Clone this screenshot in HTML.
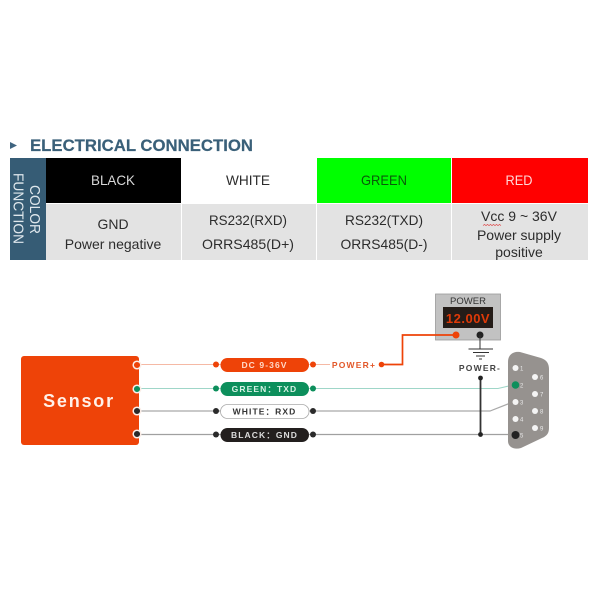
<!DOCTYPE html>
<html><head><meta charset="utf-8"><style>
html,body{margin:0;padding:0;background:#fff;width:600px;height:600px;overflow:hidden}
svg{display:block}
text{font-family:"Liberation Sans",sans-serif}
</style></head><body>
<svg width="600" height="600" viewBox="0 0 600 600" xmlns="http://www.w3.org/2000/svg">
<polygon points="10,142 17,145.500 10,149" fill="#3f6480"/>
<text x="30" y="151" font-size="16.500" font-weight="bold" fill="#3a6079" stroke="#3a6079" stroke-width=".2" textLength="223" lengthAdjust="spacingAndGlyphs">ELECTRICAL CONNECTION</text>

<rect x="10" y="158" width="36" height="102" fill="#365c75"/>
<rect x="46" y="158" width="135" height="45" fill="#000"/>
<rect x="317" y="158" width="134" height="45" fill="#00ff00"/>
<rect x="452" y="158" width="136" height="45" fill="#ff0000"/>
<rect x="46" y="204" width="135" height="56" fill="#e3e3e3"/>
<rect x="182" y="204" width="134" height="56" fill="#e3e3e3"/>
<rect x="317" y="204" width="134" height="56" fill="#e3e3e3"/>
<rect x="452" y="204" width="136" height="56" fill="#e3e3e3"/>

<text transform="translate(30,209.500) rotate(90)" font-size="14.500" fill="#dfe7ec" text-anchor="middle" textLength="49" lengthAdjust="spacingAndGlyphs">COLOR</text>
<text transform="translate(13.500,208.500) rotate(90)" font-size="14.500" fill="#dfe7ec" text-anchor="middle" textLength="71" lengthAdjust="spacingAndGlyphs">FUNCTION</text>

<g font-size="14" text-anchor="middle" fill="#2c2c2c">
<text x="113" y="185" fill="#d8d8d8" textLength="44" lengthAdjust="spacingAndGlyphs">BLACK</text>
<text x="248" y="185" textLength="44" lengthAdjust="spacingAndGlyphs">WHITE</text>
<text x="384" y="185" fill="#0a5a0a" textLength="46" lengthAdjust="spacingAndGlyphs">GREEN</text>
<text x="519" y="185" fill="#ffd8d8" textLength="27" lengthAdjust="spacingAndGlyphs">RED</text>
<text x="113" y="229">GND</text>
<text x="113" y="249">Power negative</text>
<text x="248" y="225" textLength="78" lengthAdjust="spacingAndGlyphs">RS232(RXD)</text>
<text x="248" y="249" textLength="92" lengthAdjust="spacingAndGlyphs">ORRS485(D+)</text>
<text x="384" y="225" textLength="78" lengthAdjust="spacingAndGlyphs">RS232(TXD)</text>
<text x="384" y="249" textLength="87" lengthAdjust="spacingAndGlyphs">ORRS485(D-)</text>
<text x="519" y="221">Vcc 9 ~ 36V</text>
<text x="519" y="240">Power supply</text>
<text x="519" y="257">positive</text>
</g>
<path d="M483 225.500l1.500-1 1.500 1 1.500-1 1.500 1 1.500-1 1.500 1 1.500-1 1.500 1 1.500-1 1.500 1 1.500-1 1.500 1" fill="none" stroke="#d33" stroke-width=".7"/>

<!-- wires -->
<path d="M139 364.500H372" stroke="#f5b9a5" stroke-width="1" fill="none"/>
<path d="M139 388.500H498L513 385" stroke="#9fd6c8" stroke-width="1" fill="none"/>
<path d="M139 411H490L513 402" stroke="#a9a9a9" stroke-width="1.200" fill="none"/>
<path d="M139 434.500H515" stroke="#a0a0a0" stroke-width="1.200" fill="none"/>

<rect x="21" y="356" width="118" height="89" rx="3" fill="#ee4308"/>
<text x="79" y="407" font-size="18" font-weight="bold" fill="#fff0e8" text-anchor="middle" letter-spacing="1.800">Sensor</text>

<g stroke="#fbeee8" stroke-width="1.500">
<circle cx="137" cy="365" r="3.800" fill="#ee4308"/>
<circle cx="137" cy="389" r="3.800" fill="#0d8f5c"/>
<circle cx="137" cy="411" r="3.800" fill="#2a2a2a"/>
<circle cx="137" cy="434" r="3.800" fill="#2a2a2a"/>
</g>

<!-- pills -->
<rect x="220.500" y="358" width="88.500" height="14" rx="7" fill="#ee4308"/>
<rect x="220.500" y="382" width="88.500" height="14" rx="7" fill="#0d8f5c"/>
<rect x="220.500" y="404.500" width="88.500" height="14" rx="7" fill="#fff" stroke="#aaa" stroke-width=".8"/>
<rect x="220.500" y="428" width="88.500" height="14" rx="7" fill="#231f1e"/>
<g>
<circle cx="216" cy="364.500" r="3" fill="#ee4308"/><circle cx="313" cy="364.500" r="3" fill="#ee4308"/>
<circle cx="216" cy="388.500" r="3" fill="#0d8f5c"/><circle cx="313" cy="388.500" r="3" fill="#0d8f5c"/>
<circle cx="216" cy="411" r="3" fill="#2a2a2a"/><circle cx="313" cy="411" r="3" fill="#2a2a2a"/>
<circle cx="216" cy="434.500" r="3" fill="#2a2a2a"/><circle cx="313" cy="434.500" r="3" fill="#2a2a2a"/>
</g>
<g font-size="8.500" font-weight="bold" text-anchor="middle" letter-spacing="1.100">
<text x="264.500" y="368" fill="#ffd9c8">DC 9-36V</text>
<text x="264.500" y="392" fill="#d8f2e6">GREEN：TXD</text>
<text x="264.500" y="414.500" fill="#333">WHITE：RXD</text>
<text x="264.500" y="438" fill="#ddd">BLACK：GND</text>
</g>

<rect x="330" y="358" width="48" height="12" fill="#fff"/>
<text x="354" y="368" font-size="8.500" font-weight="bold" fill="#e2582a" text-anchor="middle" letter-spacing="1.200">POWER+</text>

<!-- power meter -->
<rect x="435.500" y="294" width="65" height="46" fill="#c2c2c2" stroke="#999" stroke-width=".8"/>
<text x="468" y="304" font-size="9.500" fill="#333" text-anchor="middle">POWER</text>
<rect x="443" y="307" width="50" height="21" fill="#241c18"/>
<text x="468" y="323" font-size="13" font-weight="bold" fill="#e03a08" text-anchor="middle" letter-spacing=".5">12.00V</text>
<path d="M382 364.500H402.500V335H456" stroke="#ee4308" stroke-width="1.700" fill="none"/>
<circle cx="381.500" cy="364.500" r="2.800" fill="#ee4308"/>
<circle cx="456" cy="335" r="3.500" fill="#ee4308"/>
<circle cx="480" cy="335" r="3.500" fill="#222"/>
<path d="M480 335V349M468.500 349H493M473 352.500H489M476 356H485M479 359H482" stroke="#333" stroke-width="1" fill="none"/>
<text x="480" y="371" font-size="8.500" font-weight="bold" fill="#444" text-anchor="middle" letter-spacing="1.200">POWER-</text>
<path d="M480.500 378V435" stroke="#333" stroke-width="1.800"/>
<circle cx="480.500" cy="378" r="2.400" fill="#222"/>
<circle cx="480.500" cy="434.500" r="2.400" fill="#222"/>

<!-- DB9 -->
<path d="M508 362C508 354 514 351 520 352L541 358C547 360 549 364 549 369V428C549 433 547 436 542 438L521 448C514 450 508 447 508 441Z" fill="#96928f"/>
<g fill="#f4f4f4">
<circle cx="515.500" cy="368" r="3"/><circle cx="515.500" cy="402" r="3"/><circle cx="515.500" cy="419" r="3"/>
<circle cx="535" cy="377" r="3"/><circle cx="535" cy="394" r="3"/>
<circle cx="535" cy="411" r="3"/><circle cx="535" cy="428" r="3"/>
</g>
<circle cx="515.500" cy="385" r="3.800" fill="#0d8f5c"/>
<circle cx="515.500" cy="435" r="4" fill="#222"/>
<g font-size="6" fill="#e8e8e8">
<text x="520" y="370.500">1</text><text x="520" y="387.500">2</text><text x="520" y="404.500">3</text><text x="520" y="421.500">4</text><text x="520" y="437.500">5</text>
<text x="540" y="379.500">6</text><text x="540" y="396.500">7</text><text x="540" y="413.500">8</text><text x="540" y="430.500">9</text>
</g>
</svg>
</body></html>
